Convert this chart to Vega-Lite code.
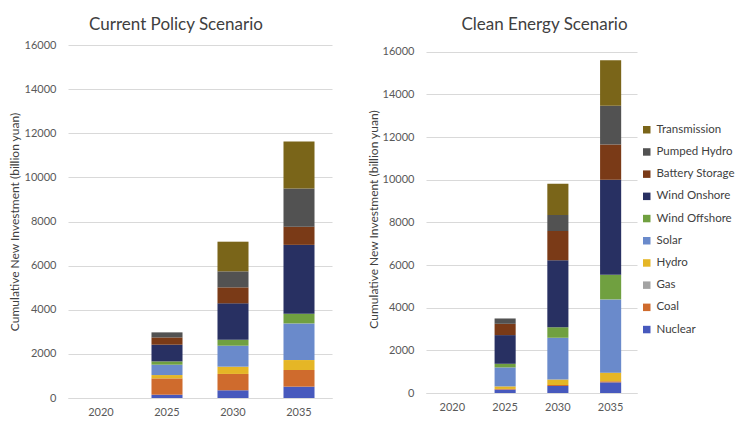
{
  "$schema": "https://vega.github.io/schema/vega-lite/v6.json",
  "padding": {"left": 8, "top": 16, "right": 5, "bottom": 5},
  "background": "white",
  "config": {
    "font": "Lato",
    "view": {"stroke": null},
    "axis": {"labelFont": "Lato", "labelColor": "#595959", "labelFontSize": 11, "titleFont": "Lato", "titleColor": "#404040", "titleFontSize": 12, "titleFontWeight": "normal", "gridColor": "#D9D9D9", "domain": false, "ticks": false},
    "title": {"font": "Lato", "fontSize": 17, "fontWeight": "normal", "color": "#404040"},
    "legend": {"labelFont": "Lato", "labelFontSize": 11.5, "labelColor": "#404040"}
  },
  "datasets": {
    "ranks": [
      {"source": "Nuclear", "rank": 1},
      {"source": "Coal", "rank": 2},
      {"source": "Gas", "rank": 3},
      {"source": "Hydro", "rank": 4},
      {"source": "Solar", "rank": 5},
      {"source": "Wind Offshore", "rank": 6},
      {"source": "Wind Onshore", "rank": 7},
      {"source": "Battery Storage", "rank": 8},
      {"source": "Pumped Hydro", "rank": 9},
      {"source": "Transmission", "rank": 10}
    ],
    "d": [
      {"scenario": "Current Policy", "year": "2025", "source": "Nuclear", "value": 150},
      {"scenario": "Current Policy", "year": "2025", "source": "Coal", "value": 740},
      {"scenario": "Current Policy", "year": "2025", "source": "Gas", "value": 0},
      {"scenario": "Current Policy", "year": "2025", "source": "Hydro", "value": 150},
      {"scenario": "Current Policy", "year": "2025", "source": "Solar", "value": 470},
      {"scenario": "Current Policy", "year": "2025", "source": "Wind Offshore", "value": 150},
      {"scenario": "Current Policy", "year": "2025", "source": "Wind Onshore", "value": 755},
      {"scenario": "Current Policy", "year": "2025", "source": "Battery Storage", "value": 330},
      {"scenario": "Current Policy", "year": "2025", "source": "Pumped Hydro", "value": 230},
      {"scenario": "Current Policy", "year": "2025", "source": "Transmission", "value": 0},
      {"scenario": "Current Policy", "year": "2030", "source": "Nuclear", "value": 350},
      {"scenario": "Current Policy", "year": "2030", "source": "Coal", "value": 740},
      {"scenario": "Current Policy", "year": "2030", "source": "Gas", "value": 0},
      {"scenario": "Current Policy", "year": "2030", "source": "Hydro", "value": 330},
      {"scenario": "Current Policy", "year": "2030", "source": "Solar", "value": 950},
      {"scenario": "Current Policy", "year": "2030", "source": "Wind Offshore", "value": 270},
      {"scenario": "Current Policy", "year": "2030", "source": "Wind Onshore", "value": 1650},
      {"scenario": "Current Policy", "year": "2030", "source": "Battery Storage", "value": 725},
      {"scenario": "Current Policy", "year": "2030", "source": "Pumped Hydro", "value": 725},
      {"scenario": "Current Policy", "year": "2030", "source": "Transmission", "value": 1345},
      {"scenario": "Current Policy", "year": "2035", "source": "Nuclear", "value": 515},
      {"scenario": "Current Policy", "year": "2035", "source": "Coal", "value": 755},
      {"scenario": "Current Policy", "year": "2035", "source": "Gas", "value": 0},
      {"scenario": "Current Policy", "year": "2035", "source": "Hydro", "value": 450},
      {"scenario": "Current Policy", "year": "2035", "source": "Solar", "value": 1660},
      {"scenario": "Current Policy", "year": "2035", "source": "Wind Offshore", "value": 440},
      {"scenario": "Current Policy", "year": "2035", "source": "Wind Onshore", "value": 3120},
      {"scenario": "Current Policy", "year": "2035", "source": "Battery Storage", "value": 825},
      {"scenario": "Current Policy", "year": "2035", "source": "Pumped Hydro", "value": 1735},
      {"scenario": "Current Policy", "year": "2035", "source": "Transmission", "value": 2130},
      {"scenario": "Clean Energy", "year": "2025", "source": "Nuclear", "value": 160},
      {"scenario": "Clean Energy", "year": "2025", "source": "Coal", "value": 30},
      {"scenario": "Clean Energy", "year": "2025", "source": "Gas", "value": 0},
      {"scenario": "Clean Energy", "year": "2025", "source": "Hydro", "value": 120},
      {"scenario": "Clean Energy", "year": "2025", "source": "Solar", "value": 890},
      {"scenario": "Clean Energy", "year": "2025", "source": "Wind Offshore", "value": 170},
      {"scenario": "Clean Energy", "year": "2025", "source": "Wind Onshore", "value": 1345},
      {"scenario": "Clean Energy", "year": "2025", "source": "Battery Storage", "value": 530},
      {"scenario": "Clean Energy", "year": "2025", "source": "Pumped Hydro", "value": 250},
      {"scenario": "Clean Energy", "year": "2025", "source": "Transmission", "value": 0},
      {"scenario": "Clean Energy", "year": "2030", "source": "Nuclear", "value": 330},
      {"scenario": "Clean Energy", "year": "2030", "source": "Coal", "value": 40},
      {"scenario": "Clean Energy", "year": "2030", "source": "Gas", "value": 0},
      {"scenario": "Clean Energy", "year": "2030", "source": "Hydro", "value": 260},
      {"scenario": "Clean Energy", "year": "2030", "source": "Solar", "value": 1965},
      {"scenario": "Clean Energy", "year": "2030", "source": "Wind Offshore", "value": 485},
      {"scenario": "Clean Energy", "year": "2030", "source": "Wind Onshore", "value": 3140},
      {"scenario": "Clean Energy", "year": "2030", "source": "Battery Storage", "value": 1375},
      {"scenario": "Clean Energy", "year": "2030", "source": "Pumped Hydro", "value": 750},
      {"scenario": "Clean Energy", "year": "2030", "source": "Transmission", "value": 1470},
      {"scenario": "Clean Energy", "year": "2035", "source": "Nuclear", "value": 500},
      {"scenario": "Clean Energy", "year": "2035", "source": "Coal", "value": 50},
      {"scenario": "Clean Energy", "year": "2035", "source": "Gas", "value": 0},
      {"scenario": "Clean Energy", "year": "2035", "source": "Hydro", "value": 405},
      {"scenario": "Clean Energy", "year": "2035", "source": "Solar", "value": 3435},
      {"scenario": "Clean Energy", "year": "2035", "source": "Wind Offshore", "value": 1155},
      {"scenario": "Clean Energy", "year": "2035", "source": "Wind Onshore", "value": 4455},
      {"scenario": "Clean Energy", "year": "2035", "source": "Battery Storage", "value": 1655},
      {"scenario": "Clean Energy", "year": "2035", "source": "Pumped Hydro", "value": 1815},
      {"scenario": "Clean Energy", "year": "2035", "source": "Transmission", "value": 2140}
    ]
  },
  "spacing": 35,
  "resolve": {"legend": {"color": "independent"}},
  "hconcat": [
    {
      "title": {"text": "Current Policy Scenario", "offset": 5, "anchor": "middle", "dx": -24},
      "width": 264,
      "height": 353,
      "data": {"name": "d"},
      "transform": [
        {"filter": "datum.scenario === 'Current Policy'"},
        {"lookup": "source", "from": {"data": {"name": "ranks"}, "key": "source", "fields": ["rank"]}}
      ],
      "mark": {"type": "bar"},
      "encoding": {
        "x": {"field": "year", "type": "nominal", "scale": {"domain": ["2020", "2025", "2030", "2035"], "paddingInner": 0.53, "paddingOuter": 0.265}, "axis": {"title": null, "labelAngle": 0, "domain": true, "domainColor": "#D9D9D9", "labelPadding": 8}},
        "y": {"field": "value", "type": "quantitative", "stack": "zero", "scale": {"domain": [0, 16000]}, "axis": {"values": [0, 2000, 4000, 6000, 8000, 10000, 12000, 14000, 16000], "format": "d", "title": "Cumulative New Investment (billion yuan)", "labelPadding": 12, "titlePadding": 3}},
        "order": {"field": "rank", "type": "quantitative", "sort": "ascending"},
        "color": {"field": "source", "type": "nominal", "sort": ["Nuclear", "Coal", "Gas", "Hydro", "Solar", "Wind Offshore", "Wind Onshore", "Battery Storage", "Pumped Hydro", "Transmission"], "scale": {"range": ["#4759BD", "#CF6B2D", "#A3A3A3", "#E5B626", "#6A8ACB", "#70A040", "#283062", "#7A3A17", "#525252", "#7A6519"]}, "legend": null}
      }
    },
    {
      "title": {"text": "Clean Energy Scenario", "offset": 11, "anchor": "middle", "dx": 13},
      "width": 211,
      "height": 348,
      "data": {"name": "d"},
      "transform": [
        {"filter": "datum.scenario === 'Clean Energy'"},
        {"lookup": "source", "from": {"data": {"name": "ranks"}, "key": "source", "fields": ["rank"]}}
      ],
      "mark": {"type": "bar"},
      "encoding": {
        "x": {"field": "year", "type": "nominal", "scale": {"domain": ["2020", "2025", "2030", "2035"], "paddingInner": 0.6, "paddingOuter": 0.3}, "axis": {"title": null, "labelAngle": 0, "domain": true, "domainColor": "#D9D9D9", "labelPadding": 8}},
        "y": {"field": "value", "type": "quantitative", "stack": "zero", "scale": {"domain": [0, 16320], "nice": false}, "axis": {"values": [0, 2000, 4000, 6000, 8000, 10000, 12000, 14000, 16000], "format": "d", "title": "Cumulative New Investment (billion yuan)", "labelPadding": 12, "titlePadding": 2}},
        "order": {"field": "rank", "type": "quantitative", "sort": "ascending"},
        "color": {"field": "source", "type": "nominal", "sort": ["Nuclear", "Coal", "Gas", "Hydro", "Solar", "Wind Offshore", "Wind Onshore", "Battery Storage", "Pumped Hydro", "Transmission"], "scale": {"range": ["#4759BD", "#CF6B2D", "#A3A3A3", "#E5B626", "#6A8ACB", "#70A040", "#283062", "#7A3A17", "#525252", "#7A6519"]}, "legend": {"orient": "none", "legendX": 215, "legendY": 79, "title": null, "values": ["Transmission", "Pumped Hydro", "Battery Storage", "Wind Onshore", "Wind Offshore", "Solar", "Hydro", "Gas", "Coal", "Nuclear"], "symbolType": "square", "symbolSize": 56, "symbolStrokeWidth": 0, "rowPadding": 9.2}}
      }
    }
  ]
}
